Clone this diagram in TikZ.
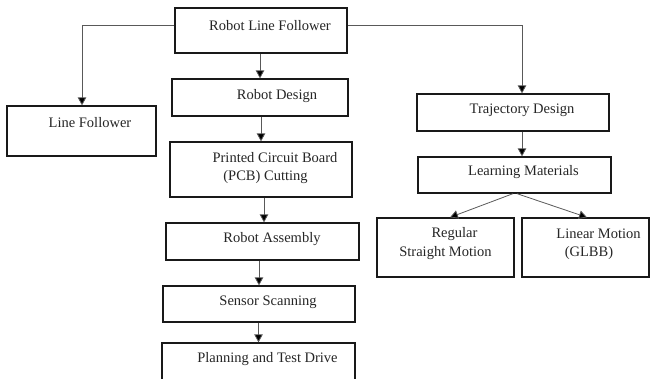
\documentclass[tikz,border=0pt]{standalone}
\usepackage{fontspec}
\setmainfont{Liberation Serif}
\usetikzlibrary{arrows.meta}
\begin{document}
\begin{tikzpicture}[x=1pt,y=-1pt,
  box/.style={draw=black!90, line width=1.3pt, inner sep=0pt, fill=white},
  lbl/.style={inner sep=0pt, text=black!85, font=\fontsize{14.5}{16}\selectfont, anchor=center},
  arr/.style={draw=black!65, line width=0.8pt, -{Triangle[width=8.5pt,length=8pt,fill=black]}},
  ln/.style={draw=black!65, line width=0.8pt}]
\useasboundingbox (0,0) rectangle (651,378);
\clip (0,0) rectangle (651,378);
% boxes
\node[box, minimum width=172pt, minimum height=45pt] (rlf) at (261,30.5) {};
\node[box, minimum width=149pt, minimum height=50pt] (lf) at (81.5,131) {};
\node[box, minimum width=176pt, minimum height=37pt] (rd) at (260,97.5) {};
\node[box, minimum width=182pt, minimum height=55pt] (pcb) at (261,169.5) {};
\node[box, minimum width=193pt, minimum height=37pt] (ra) at (262.5,241.5) {};
\node[box, minimum width=192pt, minimum height=36pt] (ss) at (259,304) {};
\node[box, minimum width=193pt, minimum height=45pt] (ptd) at (258.5,365.5) {};
\node[box, minimum width=192pt, minimum height=37pt] (td) at (513,112.5) {};
\node[box, minimum width=193pt, minimum height=36pt] (lm) at (514.5,175) {};
\node[box, minimum width=137pt, minimum height=59pt] (rsm) at (445.5,247.5) {};
\node[box, minimum width=127pt, minimum height=59pt] (lmo) at (585.5,247.5) {};
% labels
\node[lbl] (t1) at (270,26) {Robot Line Follower};
\node[lbl] (t2) at (90,123) {Line Follower};
\node[lbl] (t3) at (277,96) {Robot Design};
\node[lbl] (t4a) at (275,158) {Printed Circuit Board};
\node[lbl] (t4b) at (265.5,177) {(PCB) Cutting};
\node[lbl] (t5) at (272,239) {Robot Assembly};
\node[lbl] (t6) at (268,302) {Sensor Scanning};
\node[lbl] (t7) at (267.5,359) {Planning and Test Drive};
\node[lbl] (t8) at (522,110) {Trajectory Design};
\node[lbl] (t9) at (523.5,172) {Learning Materials};
\node[lbl] (t10a) at (454.5,234) {Regular};
\node[lbl] (t10b) at (445.5,253) {Straight Motion};
\node[lbl] (t11a) at (598.5,234) {Linear Motion};
\node[lbl] (t11b) at (589,253) {(GLBB)};
% connectors
\coordinate (lfk) at (82,25);
\coordinate (tdk) at (522,25);
\draw[ln] (rlf.west |- lfk) -- (lfk);
\draw[arr] (lfk) -- (lf.north -| lfk);
\draw[ln] (rlf.east |- tdk) -- (tdk);
\draw[arr] (tdk) -- (td.north -| tdk);
\draw[arr] (rlf.south -| rd.north) -- (rd.north);
\draw[arr] (rd.south -| pcb.north) -- (pcb.north);
\draw[arr] (pcb.south -| 264,0) -- (ra.north -| 264,0);
\draw[arr] (ra.south -| ss.north) -- (ss.north);
\draw[arr] (ss.south -| ptd.north) -- (ptd.north);
\draw[arr] (td.south -| tdk) -- (lm.north -| tdk);
\draw[arr] (lm.south -| 513,0) -- (rsm.north -| 450,0);
\draw[arr] (lm.south -| 517,0) -- (lmo.north -| 587,0);
\end{tikzpicture}
\end{document}
